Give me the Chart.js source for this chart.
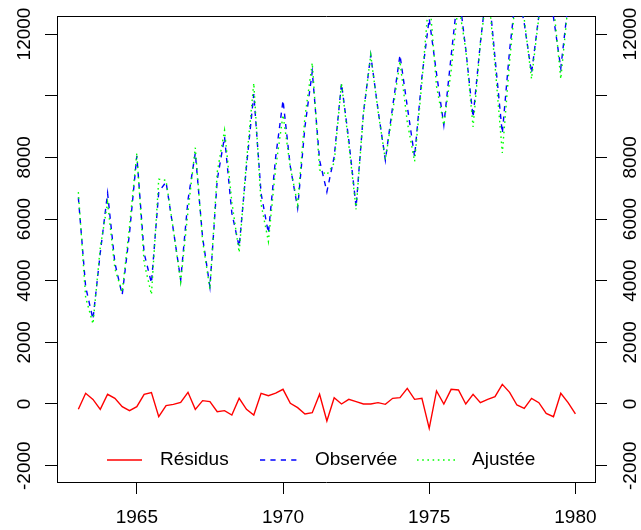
<!DOCTYPE html>
<html><head><meta charset="utf-8">
<script src="https://cdn.jsdelivr.net/npm/chart.js@4/dist/chart.umd.min.js"></script>
<style>html,body{margin:0;padding:0;background:#fff;}</style>
</head><body>
<canvas id="c" width="641" height="530" style="display:block;width:641px;height:530px"></canvas>
<script>
// Quarterly time index (1963 Q1 .. 1980 Q1)
const time = [
  1963,1963.25,1963.5,1963.75, 1964,1964.25,1964.5,1964.75,
  1965,1965.25,1965.5,1965.75, 1966,1966.25,1966.5,1966.75,
  1967,1967.25,1967.5,1967.75, 1968,1968.25,1968.5,1968.75,
  1969,1969.25,1969.5,1969.75, 1970,1970.25,1970.5,1970.75,
  1971,1971.25,1971.5,1971.75, 1972,1972.25,1972.5,1972.75,
  1973,1973.25,1973.5,1973.75, 1974,1974.25,1974.5,1974.75,
  1975,1975.25,1975.5,1975.75, 1976,1976.25,1976.5,1976.75,
  1977,1977.25,1977.5,1977.75, 1978,1978.25,1978.5,1978.75,
  1979,1979.25,1979.5,1979.75, 1980
];
const observee = [
  6700,3800,2750,4900, 6840,4570,3540,5540, 8050,4890,3920,6880,
  7200,5640,4020,6620, 8140,5400,3800,7270, 8660,6190,5100,7700,
  10050,6830,5540,8020, 9850,7700,6350,8990, 10780,7910,6880,8020,
  10400,8560,6390,9430, 11320,9540,7910,9650, 11320,9650,8020,10610,
  12500,10720,9050,11290, 13460,11500,9300,11720, 13750,11230,8780,11480,
  13600,12350,10730,12600, 13500,12550,10890,13000, 13500
];
const ajustee = [
  6873,3454,2600,5073, 6526,4386,3626,5756, 8136,4576,3552,7291,
  7254,5651,3966,6242, 8313,5292,3724,7519, 8876,6547,4916,7873,
  10407,6484,5270,7670, 9374,7678,6469,9314, 11061,7596,7431,7820,
  10400,8409,6314,9430, 11320,9497,7921,9466, 11115,9142,7869,10426,
  13290,10298,9050,10814, 13006,11500,8986,11677, 13599,10992,8142,11102,
  13632,12491,10546,12557, 13803,12961,10544,12957, 13824
];
const residus = [
  -173,346,150,-173, 314,184,-86,-216, -86,314,368,-411,
  -54,-11,54,378, -173,108,76,-249, -216,-357,184,-173,
  -357,346,270,350, 476,22,-119,-324, -281,314,-551,200,
  0,151,76,0, 0,43,-11,184, 205,508,151,184,
  -790,422,0,476, 454,0,314,43, 151,238,638,378,
  -32,-141,184,43, -303,-411,346,43, -324
];
const seriesNames = ['Résidus', 'Observée', 'Ajustée'];
const xTicks = [1965, 1970, 1975, 1980];
const xTickLabels = ['1965', '1970', '1975', '1980'];
const yTicks = [-2000, 0, 2000, 4000, 6000, 8000, 10000, 12000];
const yTickLabels = ['-2000', '0', '2000', '4000', '6000', '8000', '', '12000'];

const pts = arr => arr.map((v, i) => ({x: time[i], y: v}));
const FONT = {family: '"Liberation Sans", Arial, Helvetica, sans-serif', size: 19};
const X_MIN = 1962.27, X_MAX = 1980.67, Y_MIN = -2530, Y_MAX = 12584;

const rLegend = {
  id: 'rLegend',
  afterDatasetsDraw(chart) {
    const {ctx, chartArea: a} = chart;
    const y = a.bottom - 22;
    const slots = [[50, 85, 103], [203, 240, 258], [360, 398, 415]];
    ctx.save();
    chart.data.datasets.forEach((ds, i) => {
      const [s0, s1, tx] = slots[i];
      ctx.beginPath();
      ctx.strokeStyle = ds.borderColor;
      ctx.lineWidth = ds.borderWidth;
      ctx.setLineDash(ds.borderDash || []);
      ctx.moveTo(a.left + s0, y);
      ctx.lineTo(a.left + s1, y);
      ctx.stroke();
      ctx.setLineDash([]);
      ctx.fillStyle = '#000';
      ctx.font = FONT.size + 'px ' + FONT.family;
      ctx.textAlign = 'left';
      ctx.textBaseline = 'middle';
      ctx.fillText(ds.label, a.left + tx, y);
    });
    ctx.restore();
  }
};

const gridOpts = {display: true, drawOnChartArea: false, drawTicks: true, tickLength: 12, color: '#000', tickColor: '#000', lineWidth: 1};
const borderOpts = {display: true, color: '#000', width: 1};

new Chart(document.getElementById('c'), {
  type: 'line',
  data: {
    datasets: [
      {label: seriesNames[0], data: pts(residus), borderColor: '#FF0000', borderWidth: 1.4, pointRadius: 0, tension: 0, order: 2, clip: 0},
      {label: seriesNames[1], data: pts(observee), borderColor: '#0000FF', borderWidth: 1.4, borderDash: [5.2, 5.2], pointRadius: 0, tension: 0, order: 1, clip: 0},
      {label: seriesNames[2], data: pts(ajustee), borderColor: '#00FF00', borderWidth: 1.4, borderDash: [1.6, 3.6], pointRadius: 0, tension: 0, order: 0, clip: 0}
    ]
  },
  options: {
    responsive: false,
    animation: false,
    devicePixelRatio: 1,
    layout: {padding: 0},
    plugins: {legend: {display: false}, tooltip: {enabled: false}},
    scales: {
      x: {
        type: 'linear', position: 'bottom', min: X_MIN, max: X_MAX,
        afterBuildTicks: s => { s.ticks = xTicks.map(v => ({value: v})); },
        afterFit: s => { s.height = 48; },
        grid: gridOpts, border: borderOpts,
        ticks: {color: '#000', font: FONT, padding: 12, maxRotation: 0, minRotation: 0, autoSkip: false,
                callback: (v, i) => xTickLabels[i]}
      },
      xTop: {
        type: 'linear', position: 'top', min: X_MIN, max: X_MAX,
        afterFit: s => { s.height = 16; },
        grid: {display: false, drawTicks: false}, border: borderOpts,
        ticks: {display: false}
      },
      y: {
        type: 'linear', position: 'left', min: Y_MIN, max: Y_MAX,
        afterBuildTicks: s => { s.ticks = yTicks.map(v => ({value: v})); },
        afterFit: s => { s.width = 57; },
        grid: gridOpts, border: borderOpts,
        ticks: {color: '#000', font: FONT, padding: -6, minRotation: 90, maxRotation: 90, crossAlign: 'center', autoSkip: false,
                callback: (v, i) => yTickLabels[i]}
      },
      y2: {
        type: 'linear', position: 'right', min: Y_MIN, max: Y_MAX,
        afterBuildTicks: s => { s.ticks = yTicks.map(v => ({value: v})); },
        afterFit: s => { s.width = 46; },
        grid: gridOpts, border: borderOpts,
        ticks: {color: '#000', font: FONT, padding: -3, minRotation: 90, maxRotation: 90, crossAlign: 'center', autoSkip: false,
                callback: (v, i) => yTickLabels[i]}
      }
    }
  },
  plugins: [rLegend]
});
</script>
</body></html>
